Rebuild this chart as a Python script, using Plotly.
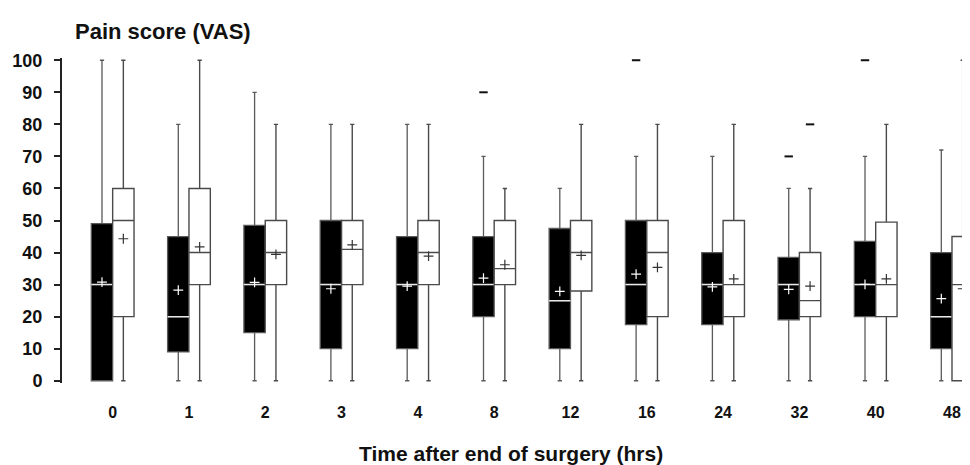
import numpy as np
import plotly.graph_objects as go

# ---- data ----
categories = ["0", "1", "2", "3", "4", "8", "12", "16", "24", "32", "40", "48"]

# Group A (black boxes)
a_lower = [0, 0, 0, 0, 0, 0, 0, 0, 0, 0, 0, 0]
a_q1 = [0, 9, 15, 10, 10, 20, 10, 17.5, 17.5, 19, 20, 10]
a_median = [30, 20, 30, 30, 30, 30, 25, 30, 30, 30, 30, 20]
a_q3 = [49, 45, 48.5, 50, 45, 45, 47.5, 50, 40, 38.5, 43.5, 40]
a_upper = [100, 80, 90, 80, 80, 70, 60, 70, 70, 60, 70, 72]
a_mean = [30.8, 28.3, 30.7, 28.7, 29.5, 32.0, 27.9, 33.3, 29.3, 28.5, 30.1, 25.6]
a_outliers = [[], [], [], [], [], [90], [], [100], [], [70], [100], []]

# Group B (white boxes)
b_lower = [0, 0, 0, 0, 0, 0, 0, 0, 0, 0, 0, 0]
b_q1 = [20, 30, 30, 30, 30, 30, 28, 20, 20, 20, 20, 0]
b_median = [50, 40, 40, 41, 40, 35, 40, 40, 30, 25, 30, 30]
b_q3 = [60, 60, 50, 50, 50, 50, 50, 50, 50, 40, 49.5, 45]
b_upper = [100, 100, 80, 80, 80, 60, 80, 80, 80, 60, 80, 100]
b_mean = [44.3, 41.8, 39.4, 42.4, 38.9, 36.2, 39.1, 35.4, 31.8, 29.5, 31.8, 28.7]
b_outliers = [[], [], [], [], [], [], [], [], [], [80], [], []]

y_ticks = [0, 10, 20, 30, 40, 50, 60, 70, 80, 90, 100]

# ---- layout helpers ----
pos = np.arange(len(categories))
off = 0.14
bw = 0.28
xa = pos - off
xb = pos + off

FONT = "Liberation Sans, Arial, sans-serif"

fig = go.Figure()

# black boxes
fig.add_trace(go.Box(
    x=xa, q1=a_q1, median=a_median, q3=a_q3,
    lowerfence=a_lower, upperfence=a_upper,
    width=bw, whiskerwidth=0.2,
    fillcolor="black", line=dict(color="#5a5a5a", width=1.3),
    boxpoints=False, showlegend=False, hoverinfo="skip",
))
# white median lines for black boxes
fig.add_trace(go.Box(
    x=xa, q1=a_median, median=a_median, q3=a_median,
    lowerfence=a_median, upperfence=a_median,
    width=bw, whiskerwidth=0,
    fillcolor="rgba(0,0,0,0)", line=dict(color="#e8e8e8", width=1.5),
    boxpoints=False, showlegend=False, hoverinfo="skip",
))
# white boxes
fig.add_trace(go.Box(
    x=xb, q1=b_q1, median=b_median, q3=b_q3,
    lowerfence=b_lower, upperfence=b_upper,
    width=bw, whiskerwidth=0.2,
    fillcolor="white", line=dict(color="#4a4a4a", width=1.4),
    boxpoints=False, showlegend=False, hoverinfo="skip",
))

# means
fig.add_trace(go.Scatter(
    x=xa, y=a_mean, mode="markers", showlegend=False, hoverinfo="skip",
    marker=dict(symbol="cross-thin", size=7, line=dict(color="white", width=1.2)),
))
fig.add_trace(go.Scatter(
    x=xb, y=b_mean, mode="markers", showlegend=False, hoverinfo="skip",
    marker=dict(symbol="cross-thin", size=7, line=dict(color="#333333", width=1.2)),
))

# outliers
oa_x, oa_y = [], []
for i, vals in enumerate(a_outliers):
    for v in vals:
        oa_x.append(xa[i]); oa_y.append(v)
ob_x, ob_y = [], []
for i, vals in enumerate(b_outliers):
    for v in vals:
        ob_x.append(xb[i]); ob_y.append(v)
fig.add_trace(go.Scatter(
    x=oa_x + ob_x, y=oa_y + ob_y, mode="markers", showlegend=False,
    hoverinfo="skip", cliponaxis=False,
    marker=dict(symbol="line-ew", size=6, line=dict(color="#111111", width=2)),
))

# the page adds an 8 px body margin, so the figure is sized to fit the window
fig.update_layout(
    width=962, height=457,
    margin=dict(l=54, r=0, t=50, b=82, autoexpand=False),
    paper_bgcolor="white", plot_bgcolor="white",
    showlegend=False,
    font=dict(family=FONT, color="#111111"),
    xaxis=dict(
        range=[-0.664, 11.236], tickmode="array", tickvals=pos, ticktext=categories,
        showline=False, showgrid=False, zeroline=False, ticks="",
        tickfont=dict(size=16, weight="bold", family=FONT, color="#111111"),
        ticklabelstandoff=18, automargin=False,
    ),
    yaxis=dict(
        range=[-0.7, 100.7], tickmode="array", tickvals=y_ticks,
        showline=True, linecolor="#222222", linewidth=2,
        ticks="outside", ticklen=6, tickwidth=2, tickcolor="#222222",
        showgrid=False, zeroline=False,
        tickfont=dict(size=18, weight="bold", family=FONT, color="#111111"),
        ticklabelstandoff=8, automargin=False,
    ),
    annotations=[
        dict(text="Pain score (VAS)", xref="paper", yref="paper",
             x=0.012, y=1.082, xanchor="left", yanchor="middle", showarrow=False,
             font=dict(size=22, weight="bold", family=FONT, color="#111111")),
        dict(text="Time after end of surgery (hrs)", xref="paper", yref="paper",
             x=0.494, y=-0.218, xanchor="center", yanchor="middle", showarrow=False,
             font=dict(size=21, weight="bold", family=FONT, color="#111111")),
    ],
)

fig.write_html("out.html")
